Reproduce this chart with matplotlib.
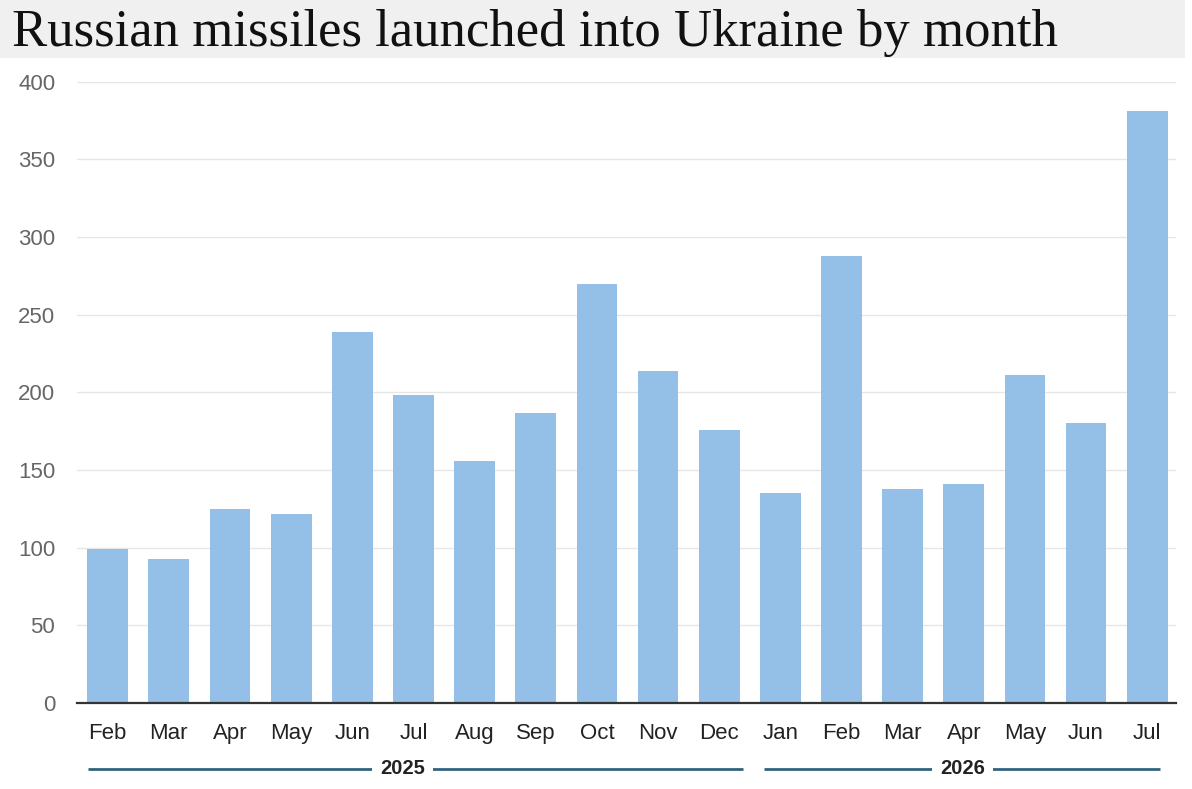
import matplotlib
matplotlib.use("Agg")
import matplotlib.pyplot as plt
from matplotlib.patches import Rectangle

months = ["Feb", "Mar", "Apr", "May", "Jun", "Jul", "Aug", "Sep", "Oct", "Nov", "Dec",
          "Jan", "Feb", "Mar", "Apr", "May", "Jun", "Jul"]
missiles = [99, 93, 125, 122, 239, 198, 156, 187, 270, 214, 176,
            135, 288, 138, 141, 211, 180, 381]
years = ["2025", "2026"]
year_spans = [(0, 10), (11, 17)]
yticks = [0, 50, 100, 150, 200, 250, 300, 350, 400]

W, H = 1192, 789
fig = plt.figure(figsize=(W / 100, H / 100), dpi=100)
fig.patch.set_facecolor("white")

# title band
fig.patches.append(Rectangle((0, 1 - 58 / H), 1185 / W, 58 / H, transform=fig.transFigure,
                             facecolor="#f0f0f0", edgecolor="none", zorder=0))
fig.text(12 / W, 1 - 45.7 / H, "Russian missiles launched into Ukraine by month",
         family="Liberation Serif", fontsize=38, color="#111111", va="baseline", ha="left")

left, right = 76.7 / W, 1176 / W
bottom, top = 1 - 703 / H, 1 - 81.7 / H
ax = fig.add_axes([left, bottom, right - left, top - bottom])

x = list(range(len(months)))
ax.bar(x, missiles, width=0.666, color="#94bfe6", zorder=2)

ax.set_xlim(-0.507, 17.47)
ax.set_ylim(0, 400)
ax.set_yticks(yticks)
ax.set_yticklabels([str(v) for v in yticks], family="Liberation Sans", fontsize=16, color="#666666")
ax.set_xticks(x)
ax.set_xticklabels(months, family="Liberation Sans", fontsize=16, color="#222222")
ax.tick_params(axis="y", length=0, pad=15.5)
ax.tick_params(axis="x", length=0, pad=14.5)
ax.grid(axis="y", color="#e6e6e6", linewidth=1, zorder=0)
ax.set_axisbelow(True)
for s in ["top", "right", "left"]:
    ax.spines[s].set_visible(False)
ax.spines["bottom"].set_color("#333333")
ax.spines["bottom"].set_linewidth(1.6)
ax.spines["bottom"].set_zorder(3)

# year brackets
trans = ax.get_xaxis_transform()
yy = -0.1062
for label, (a, b) in zip(years, year_spans):
    x0 = a - 0.33
    x1 = b + 0.21
    if a == 11:
        x0 = a - 0.27
    if b == 10:
        x1 = b + 0.39
    xc = 4.82 if a == 0 else 13.98
    ax.plot([x0, x1], [yy, yy], transform=trans, color="#31647c", linewidth=2.0,
            clip_on=False, solid_capstyle="butt")
    ax.text(xc, yy, label, transform=trans,
            ha="center", va="center", family="Liberation Sans", fontsize=14.5,
            fontweight="bold", color="#222222",
            bbox=dict(facecolor="white", edgecolor="none", pad=6))

fig.savefig("out.png", dpi=100)
